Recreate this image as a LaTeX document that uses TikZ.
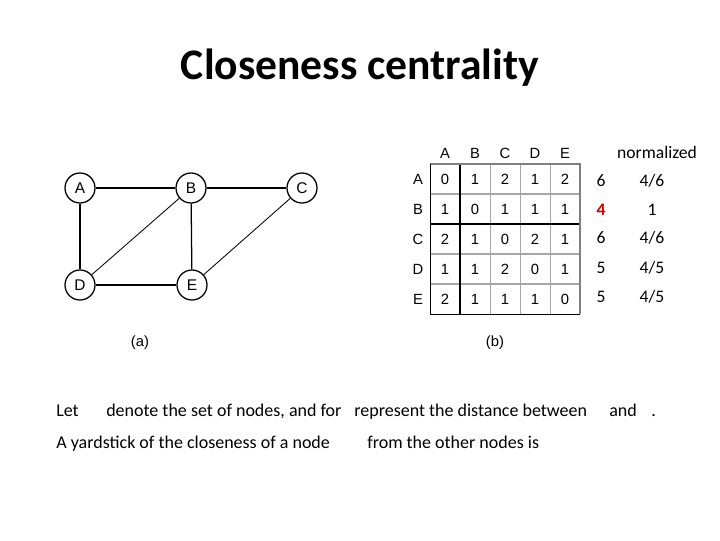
\documentclass[tikz,border=0pt]{standalone}
\usepackage{fontspec}
\setmainfont{Carlito}
\newfontfamily\arialfont{Liberation Sans}
\usetikzlibrary{positioning}

\tikzset{
  vertex/.style={circle, draw, line width=0.9pt, minimum size=0.75cm, inner sep=0pt,
    font=\arialfont\fontsize{11}{13}\selectfont},
  edge/.style={line width=0.9pt},
  cell/.style={font=\arialfont\fontsize{10.5}{12}\selectfont, inner sep=0pt},
  body/.style={anchor=base west, inner sep=0pt, font=\fontsize{12.8}{15}\selectfont},
  side/.style={inner sep=0pt, font=\fontsize{12.5}{15}\selectfont},
  caption/.style={font=\arialfont\fontsize{10.5}{12}\selectfont}
}

\begin{document}
\begin{tikzpicture}[x=0.025cm, y=-0.025cm]
    \useasboundingbox (0,0) rectangle (720,540);

    % Titel
    \node[font=\bfseries\fontsize{31}{36}\selectfont] (title) at (360,68) {Closeness centrality};

    % Graph (a)
    \node[vertex] (A) at (80,188) {A};
    \node[vertex] (B) at (191,188) {B};
    \node[vertex] (C) at (302,188) {C};
    \node[vertex] (D) at (80,285) {D};
    \node[vertex] (E) at (192,285) {E};
    \draw[edge] (A) -- (B);
    \draw[edge] (B) -- (C);
    \draw[edge] (A) -- (D);
    \draw[edge] (D) -- (E);
    \draw[edge] (B) -- (E);
    \draw[line width=0.6pt] (B) -- (D);
    \draw[line width=0.6pt] (C) -- (E);
    \node[caption] (capa) at (140,343) {(a)};

    % Distanzmatrix (b)
    \draw[gray!70, line width=0.9pt] (430,194) -- (580,194);
    \draw[gray!70, line width=0.9pt] (430,254) -- (580,254);
    \draw[gray!70, line width=0.9pt] (430,284) -- (580,284);
    \draw[gray!70, line width=0.6pt] (490,164) -- (490,314);
    \draw[gray!70, line width=0.6pt] (520,164) -- (520,314);
    \draw[gray!70, line width=0.6pt] (550,164) -- (550,314);
    \draw[black, line width=1.1pt] (430,224) -- (580,224);
    \draw[black, line width=1.2pt] (460,164) -- (460,314);
    \draw[gray, line width=1.6pt] (430,164) -- (580,164) -- (580,314);
    \draw[black, line width=0.7pt] (430,164) -- (430,314) -- (580,314);

    \foreach \lab [count=\j] in {A,B,C,D,E} {
        \node[cell] (col\j) at (415+30*\j,153) {\lab};
        \node[cell] (row\j) at (418,149+30*\j) {\lab};
    }
    \foreach \row [count=\i] in {{0,1,2,1,2},{1,0,1,1,1},{2,1,0,2,1},{1,1,2,0,1},{2,1,1,1,0}} {
        \foreach \v [count=\j] in \row {
            \node[cell] (m\i\j) at (415+30*\j,149+30*\i) {\v};
        }
    }

    % Summen und normiert
    \node[side] (norm) at (657,152) {normalized};
    \node[side] (s1) at (601,181) {6};
    \node[side, red!80!black, font=\bfseries\fontsize{12.5}{15}\selectfont] (s2) at (601,210) {4};
    \node[side] (s3) at (601,238) {6};
    \node[side] (s4) at (601,268) {5};
    \node[side] (s5) at (601,297) {5};
    \node[side] (n1) at (652,181) {4/6};
    \node[side] (n2) at (652,210) {1};
    \node[side] (n3) at (652,238) {4/6};
    \node[side] (n4) at (652,268) {4/5};
    \node[side] (n5) at (652,297) {4/5};
    \node[caption] (capb) at (495,343) {(b)};

    % Text
    \node[body] (t1) at (56,416) {Let};
    \node[body] (t2) at (106,416) {denote the set of nodes, and for};
    \node[body] (t3) at (354,416) {represent the distance between};
    \node[body] (t4) at (609,416) {and};
    \node[body] (t5) at (651,416) {.};
    \node[body] (t6) at (56,448) {A yardstick of the closeness of a node};
    \node[body] (t7) at (367,448) {from the other nodes is};

\end{tikzpicture}
\end{document}
